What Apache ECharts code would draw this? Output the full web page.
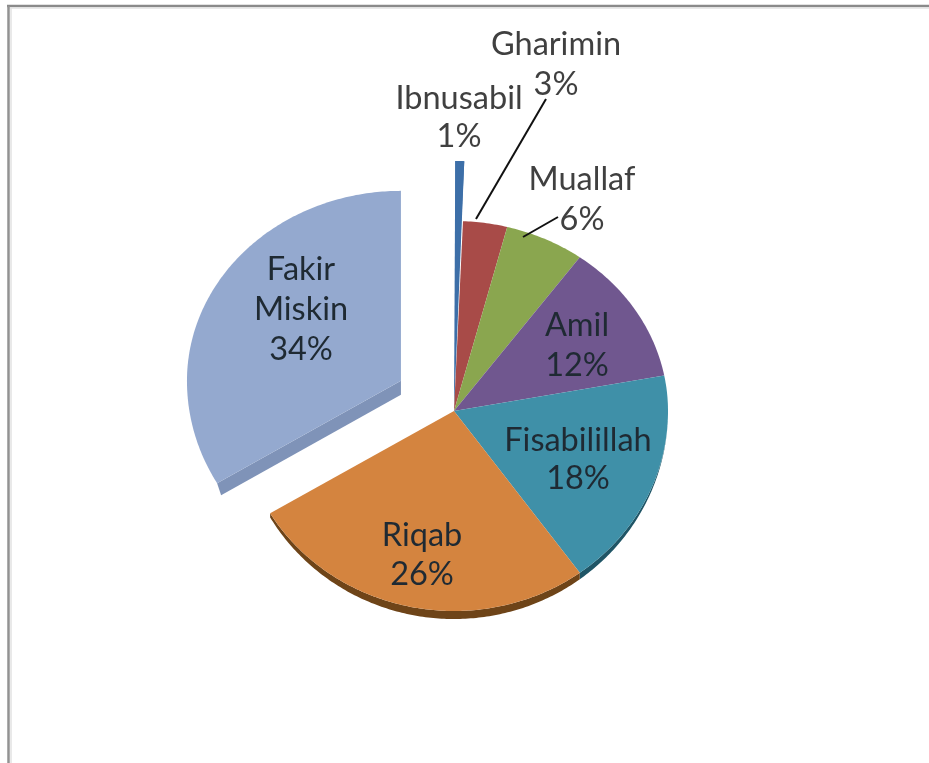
<!DOCTYPE html>
<html>
<head>
<meta charset="utf-8">
<style>
  html, body { margin: 0; padding: 0; background: #fff; }
  #chart { width: 929px; height: 763px; }
</style>
<script src="https://cdn.jsdelivr.net/npm/echarts@6/dist/echarts.min.js"></script>
</head>
<body>
<div id="chart"></div>
<script>
  var categories = ['Ibnusabil', 'Gharimin', 'Muallaf', 'Amil', 'Fisabilillah', 'Riqab', 'Fakir Miskin'];
  var shares = [0.67, 3.33, 6, 12, 18, 26.45, 33.55];
  var exploded = [60, 0, 0, 0, 0, 0, 61];

  var faceColors = ['#3d6fa8', '#a84b48', '#8aa64f', '#70578f', '#3f90a8', '#d4843f', '#94a9cf'];
  var sideColors = ['#3d6fa8', '#7a3533', '#64793a', '#523f69', '#1f5566', '#6e4418', '#7f93b8'];

  // pie is tilted, so the ellipse is flatter above the centre than below
  var cx = 454, cy = 411, rx = 214, ryTop = 190, ryBottom = 200;
  var rimDepth = 8;

  // label lines and where each label sits, placed by hand like the original
  var labelLines = [
    ['Ibnusabil', '1%'],
    ['Gharimin', '3%'],
    ['Muallaf', '6%'],
    ['Amil', '12%'],
    ['Fisabilillah', '18%'],
    ['Riqab', '26%'],
    ['Fakir', 'Miskin', '34%']
  ];
  var labelAnchors = [[459, 99], [556, 45], [582, 180], [577, 326], [578, 441], [422, 536], [301, 270]];
  var labelSteps = [38, 40, 40, 40, 38, 39, 40];
  var leaders = [null, [[546, 99], [476, 219]], [[558, 217], [523, 237]], null, null, null, null];

  function rimPoint(angle, extra) {
    var c = Math.cos(angle);
    var ry = c >= 0 ? ryTop : ryBottom + (extra || 0);
    return [rx * Math.sin(angle), -ry * c];
  }

  function renderSlice(params, api) {
    var i = params.dataIndex;
    var before = 0;
    for (var k = 0; k < i; k++) before += shares[k];
    var a0 = before / 100 * Math.PI * 2;
    var a1 = (before + api.value(0)) / 100 * Math.PI * 2;
    var mid = (a0 + a1) / 2;
    var ox = cx + exploded[i] * Math.sin(mid);
    var oy = cy - exploded[i] * Math.cos(mid);

    var face = [[ox, oy]];
    var rimOut = [];
    var rimIn = [];
    var steps = Math.max(4, Math.ceil((a1 - a0) * 80));
    for (var s = 0; s <= steps; s++) {
      var a = a0 + (a1 - a0) * s / steps;
      var p = rimPoint(a);
      var q = rimPoint(a, rimDepth);
      face.push([ox + p[0], oy + p[1]]);
      rimIn.push([ox + p[0], oy + p[1]]);
      rimOut.unshift([ox + q[0], oy + q[1]]);
    }

    var children = [];
    if (!exploded[i] && Math.cos(mid) < 0.9) {
      children.push({
        type: 'polygon',
        shape: { points: rimIn.concat(rimOut) },
        style: { fill: sideColors[i] }
      });
    }
    // exploded slice shows its cut side along the lower straight edge
    if (exploded[i] && Math.sin(mid) < 0 && Math.cos(mid) > 0) {
      var tip = face[1];
      children.push({
        type: 'polygon',
        shape: { points: [[ox, oy], tip, [tip[0] + 4, tip[1] + 12], [ox, oy + 14]] },
        style: { fill: sideColors[i] }
      });
    }
    // the thin slice pulled straight up leaves a wall running back to the centre
    if (exploded[i] && Math.sin(mid) > 0) {
      children.push({
        type: 'polygon',
        shape: { points: [face[1], face[face.length - 1], [cx, cy]] },
        style: { fill: sideColors[i] }
      });
    }
    children.push({
      type: 'polygon',
      shape: { points: face },
      style: { fill: faceColors[i] }
    });

    if (leaders[i]) {
      children.push({
        type: 'polyline',
        shape: { points: leaders[i] },
        style: { stroke: '#111', lineWidth: 2, fill: null }
      });
    }
    labelLines[i].forEach(function (line, n) {
      children.push({
        type: 'text',
        z2: 10,
        style: {
          text: line,
          x: labelAnchors[i][0],
          y: labelAnchors[i][1] + n * labelSteps[i],
          align: 'center',
          verticalAlign: 'middle',
          fill: i < 3 ? '#404040' : '#1f2a33',
          font: '400 32.5px Lato, "Open Sans", sans-serif'
        }
      });
    });
    return { type: 'group', children: children };
  }

  var myChart = echarts.init(document.getElementById('chart'), null, { renderer: 'canvas' });
  myChart.setOption({
    animation: false,
    backgroundColor: '#fff',
    graphic: [
      { type: 'line', shape: { x1: 7, y1: 6, x2: 929, y2: 6 }, style: { stroke: '#8a8a8a', lineWidth: 2.5 } },
      { type: 'line', shape: { x1: 9, y1: 8, x2: 929, y2: 8 }, style: { stroke: '#e2e2e2', lineWidth: 1.5 } },
      { type: 'line', shape: { x1: 8.5, y1: 6, x2: 8.5, y2: 763 }, style: { stroke: '#929292', lineWidth: 2.5 } },
      { type: 'line', shape: { x1: 11, y1: 8, x2: 11, y2: 763 }, style: { stroke: '#e2e2e2', lineWidth: 1.5 } }
    ],
    series: [{
      type: 'custom',
      coordinateSystem: 'none',
      renderItem: renderSlice,
      data: shares.map(function (v, i) { return { name: categories[i], value: [v] }; })
    }]
  });
</script>
</body>
</html>
